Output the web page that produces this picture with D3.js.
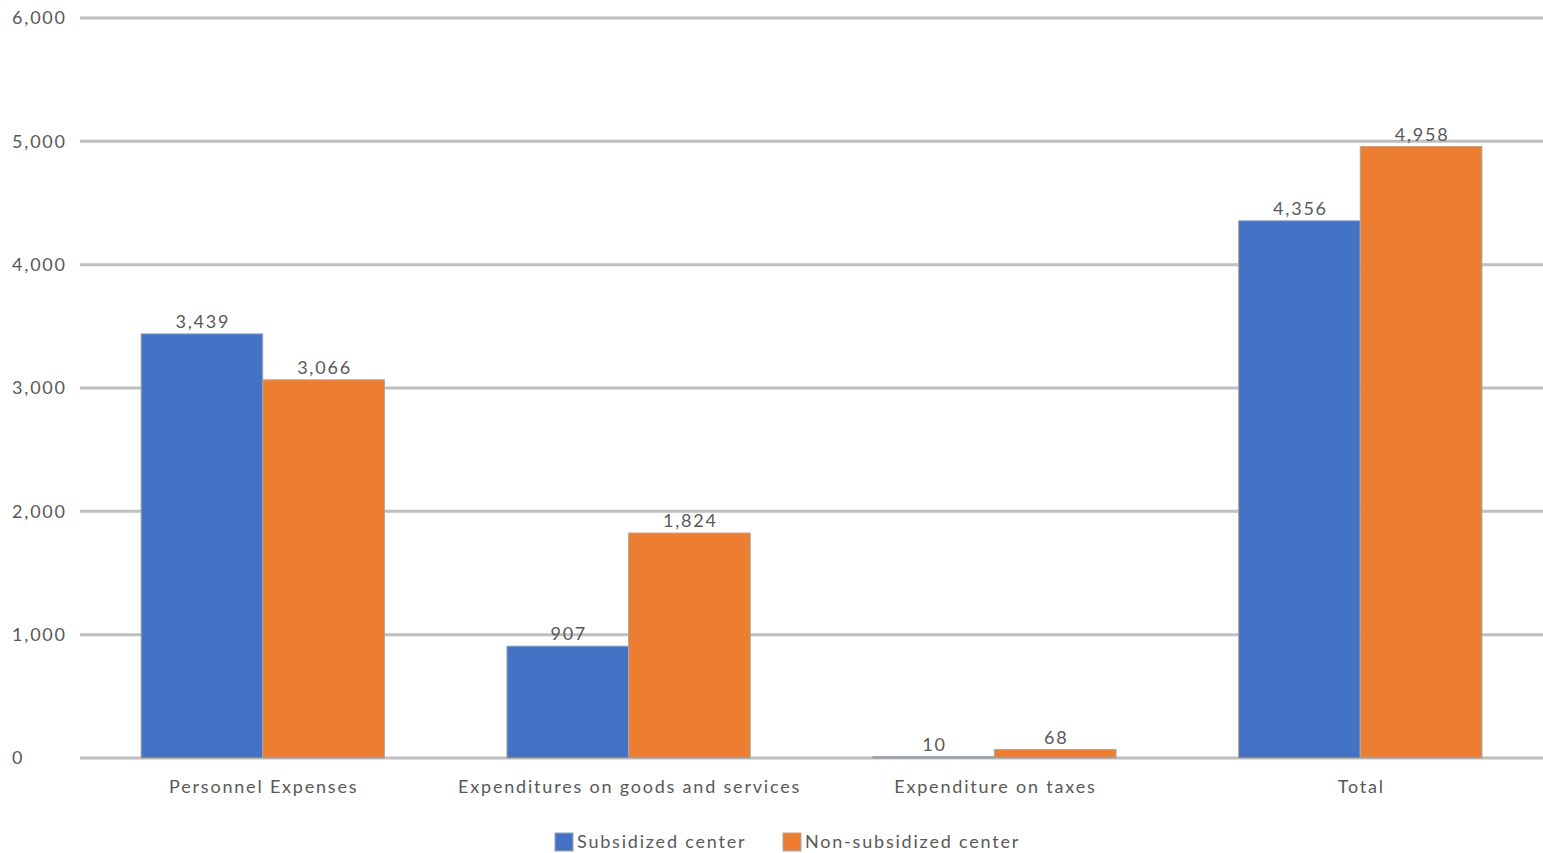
<!DOCTYPE html>
<html>
<head>
<meta charset="utf-8">
<script src="https://cdn.jsdelivr.net/npm/d3@7"></script>
<style>
  html, body { margin: 0; padding: 0; background: #fff; }
  svg { display: block; }
  text { font-family: Lato, "Open Sans", sans-serif; fill: #595959; letter-spacing: 1.8px; }
</style>
</head>
<body>
<svg id="chart" width="1543" height="853"></svg>
<script>
// Expenditure categories and the two series
const categories = ["Personnel Expenses", "Expenditures on goods and services", "Expenditure on taxes", "Total"];
const seriesNames = ["Subsidized center", "Non-subsidized center"];
const subsidized = [3439, 907, 10, 4356];
const nonSubsidized = [3066, 1824, 68, 4958];
const yTicks = [0, 1000, 2000, 3000, 4000, 5000, 6000];
const colors = ["#4472C4", "#ED7D31"];

const W = 1543, H = 853;
const margin = { left: 80, right: 0, top: 18, bottom: 95 };
const svg = d3.select("#chart");

const x = d3.scaleBand()
  .domain(categories)
  .range([margin.left, W - margin.right])
  .paddingInner(0.335)
  .paddingOuter(0.167);

const xs = d3.scaleBand().domain([0, 1]).range([0, x.bandwidth()]);

const y = d3.scaleLinear().domain([0, 6000]).range([H - margin.bottom, margin.top]);

const fmt = d3.format(",");

// Horizontal gridlines
svg.append("g")
  .selectAll("line")
  .data(yTicks)
  .join("line")
  .attr("x1", margin.left)
  .attr("x2", W - margin.right)
  .attr("y1", d => y(d))
  .attr("y2", d => y(d))
  .attr("stroke", "#bfbfbf")
  .attr("stroke-width", 3);

// Y axis labels
svg.append("g")
  .selectAll("text")
  .data(yTicks)
  .join("text")
  .attr("x", 12)
  .attr("y", d => y(d))
  .attr("dy", "0.35em")
  .attr("font-size", 18)
  .text(d => fmt(d));

const rows = categories.map((c, i) => ({ cat: c, vals: [subsidized[i], nonSubsidized[i]] }));

const groups = svg.append("g")
  .selectAll("g")
  .data(rows)
  .join("g")
  .attr("transform", d => `translate(${x(d.cat)},0)`);

groups.selectAll("rect")
  .data(d => d.vals.map((v, k) => ({ v, k })))
  .join("rect")
  .attr("x", d => xs(d.k))
  .attr("width", xs.bandwidth())
  .attr("y", d => y(d.v))
  .attr("height", d => y(0) - y(d.v))
  .attr("fill", d => colors[d.k])
  .attr("stroke", "#a6a6a6")
  .attr("stroke-width", 1);

// Value labels above bars
groups.selectAll("text")
  .data(d => d.vals.map((v, k) => ({ v, k })))
  .join("text")
  .attr("x", d => xs(d.k) + xs.bandwidth() / 2 + 1)
  .attr("y", d => y(d.v) - 6)
  .attr("text-anchor", "middle")
  .attr("font-size", 18)
  .text(d => fmt(d.v));

// Category labels
svg.append("g")
  .selectAll("text")
  .data(categories)
  .join("text")
  .attr("x", d => x(d) + x.bandwidth() / 2 + 1)
  .attr("y", 787)
  .attr("dy", "0.35em")
  .attr("text-anchor", "middle")
  .attr("font-size", 18)
  .text(d => d);

// Legend
const legendX = [555, 783];
const legend = svg.append("g")
  .selectAll("g")
  .data(seriesNames)
  .join("g")
  .attr("transform", (d, i) => `translate(${legendX[i]},833)`);
legend.append("rect")
  .attr("width", 18)
  .attr("height", 18)
  .attr("fill", (d, i) => colors[i])
  .attr("stroke", "#a6a6a6");
legend.append("text")
  .attr("x", 22)
  .attr("y", 9)
  .attr("dy", "0.35em")
  .attr("font-size", 18)
  .text(d => d);
</script>
</body>
</html>
